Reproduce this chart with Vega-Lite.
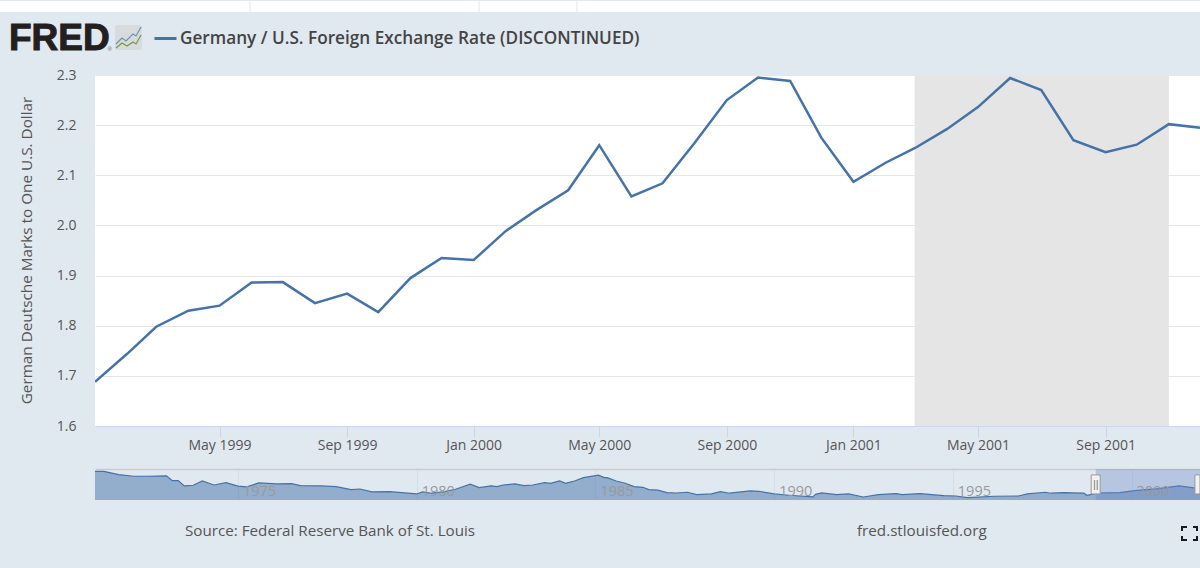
{
"$schema":"https://vega.github.io/schema/vega-lite/v6.json",
"background":"#e1e9f0",
"padding":0,
"bounds":"flush",
"spacing":0,
"config":{"view":{"stroke":null},"font":"Open Sans"},
"datasets":{
"monthly":[
{"date":"1999-01-01","rate":1.688},{"date":"1999-02-01","rate":1.744},{"date":"1999-03-01","rate":1.798},{"date":"1999-04-01","rate":1.83},{"date":"1999-05-01","rate":1.84},{"date":"1999-06-01","rate":1.886},{"date":"1999-07-01","rate":1.887},{"date":"1999-08-01","rate":1.845},{"date":"1999-09-01","rate":1.864},{"date":"1999-10-01","rate":1.827},{"date":"1999-11-01","rate":1.895},{"date":"1999-12-01","rate":1.935},
{"date":"2000-01-01","rate":1.931},{"date":"2000-02-01","rate":1.989},{"date":"2000-03-01","rate":2.03},{"date":"2000-04-01","rate":2.07},{"date":"2000-05-01","rate":2.16},{"date":"2000-06-01","rate":2.058},{"date":"2000-07-01","rate":2.084},{"date":"2000-08-01","rate":2.165},{"date":"2000-09-01","rate":2.25},{"date":"2000-10-01","rate":2.295},{"date":"2000-11-01","rate":2.288},{"date":"2000-12-01","rate":2.175},
{"date":"2001-01-01","rate":2.087},{"date":"2001-02-01","rate":2.125},{"date":"2001-03-01","rate":2.154},{"date":"2001-04-01","rate":2.192},{"date":"2001-05-01","rate":2.236},{"date":"2001-06-01","rate":2.294},{"date":"2001-07-01","rate":2.27},{"date":"2001-08-01","rate":2.17},{"date":"2001-09-01","rate":2.146},{"date":"2001-10-01","rate":2.161},{"date":"2001-11-01","rate":2.202},{"date":"2001-12-01","rate":2.195}
],
"history":[
{"date":"1971-01-01","rate":3.6},{"date":"1971-04-01","rate":3.6},{"date":"1971-09-01","rate":3.33},{"date":"1972-02-01","rate":3.19},{"date":"1972-07-01","rate":3.19},{"date":"1973-01-01","rate":3.22},{"date":"1973-03-01","rate":2.83},{"date":"1973-05-01","rate":2.83},{"date":"1973-07-01","rate":2.39},{"date":"1973-10-01","rate":2.45},{"date":"1974-01-01","rate":2.8},{"date":"1974-05-01","rate":2.47},{"date":"1974-09-01","rate":2.66},{"date":"1975-01-01","rate":2.37},{"date":"1975-04-01","rate":2.31},{"date":"1975-08-01","rate":2.64},{"date":"1976-02-01","rate":2.56},{"date":"1976-07-01","rate":2.58},{"date":"1976-10-01","rate":2.42},{"date":"1977-05-01","rate":2.39},{"date":"1977-10-01","rate":2.33},{"date":"1978-03-01","rate":2.09},{"date":"1978-06-01","rate":2.14},{"date":"1978-10-01","rate":1.9},{"date":"1979-04-01","rate":1.92},{"date":"1980-01-01","rate":1.73},{"date":"1980-03-01","rate":1.9},{"date":"1980-06-01","rate":1.79},{"date":"1980-10-01","rate":1.9},{"date":"1981-02-01","rate":2.12},{"date":"1981-07-01","rate":2.53},{"date":"1981-10-01","rate":2.25},{"date":"1982-02-01","rate":2.39},{"date":"1982-04-01","rate":2.33},{"date":"1982-06-01","rate":2.47},{"date":"1982-10-01","rate":2.56},{"date":"1983-01-01","rate":2.42},{"date":"1983-04-01","rate":2.47},{"date":"1983-08-01","rate":2.66},{"date":"1983-10-01","rate":2.61},{"date":"1984-01-01","rate":2.8},{"date":"1984-03-01","rate":2.61},{"date":"1984-06-01","rate":2.8},{"date":"1984-09-01","rate":3.08},{"date":"1985-02-01","rate":3.28},{"date":"1985-04-01","rate":3.08},{"date":"1985-05-01","rate":3.08},{"date":"1985-08-01","rate":2.8},{"date":"1985-11-01","rate":2.61},{"date":"1986-02-01","rate":2.33},{"date":"1986-05-01","rate":2.28},{"date":"1986-07-01","rate":2.09},{"date":"1986-10-01","rate":2.04},{"date":"1987-01-01","rate":1.84},{"date":"1987-04-01","rate":1.81},{"date":"1987-08-01","rate":1.87},{"date":"1987-11-01","rate":1.67},{"date":"1988-04-01","rate":1.73},{"date":"1988-07-01","rate":1.92},{"date":"1988-10-01","rate":1.79},{"date":"1989-05-01","rate":1.98},{"date":"1989-08-01","rate":1.95},{"date":"1990-01-01","rate":1.73},{"date":"1990-06-01","rate":1.62},{"date":"1991-02-01","rate":1.48},{"date":"1991-03-01","rate":1.7},{"date":"1991-05-01","rate":1.81},{"date":"1991-10-01","rate":1.67},{"date":"1992-02-01","rate":1.73},{"date":"1992-07-01","rate":1.48},{"date":"1992-12-01","rate":1.67},{"date":"1993-06-01","rate":1.75},{"date":"1993-08-01","rate":1.67},{"date":"1994-02-01","rate":1.75},{"date":"1994-10-01","rate":1.59},{"date":"1995-02-01","rate":1.56},{"date":"1995-06-01","rate":1.42},{"date":"1996-03-01","rate":1.54},{"date":"1996-11-01","rate":1.56},{"date":"1997-02-01","rate":1.73},{"date":"1997-08-01","rate":1.87},{"date":"1997-10-01","rate":1.79},{"date":"1998-02-01","rate":1.84},{"date":"1998-09-01","rate":1.79},{"date":"1998-10-01","rate":1.62},{"date":"1999-02-01","rate":1.81},{"date":"1999-09-01","rate":1.84},{"date":"2000-02-01","rate":2.0},{"date":"2000-10-01","rate":2.17},{"date":"2001-05-01","rate":2.39},{"date":"2001-10-01","rate":2.23},{"date":"2001-12-01","rate":2.2}
]
},
"vconcat":[
{
"width":1105,"height":74,
"layer":[
{"data":{"values":[{"a":-95,"b":1105,"t":0,"u":11}]},
 "mark":{"type":"rect","fill":"#ffffff"},
 "encoding":{"x":{"field":"a","type":"quantitative","scale":{"domain":[0,1105],"nice":false,"zero":false},"axis":null},"x2":{"field":"b"},"y":{"field":"t","type":"quantitative","scale":{"domain":[74,0],"nice":false,"zero":false},"axis":null},"y2":{"field":"u"}}},
{"data":{"values":[{"a":155,"t":0,"u":11},{"a":384,"t":0,"u":11},{"a":482,"t":0,"u":11}]},
 "mark":{"type":"rule","stroke":"#dfe6ef","strokeWidth":1},
 "encoding":{"x":{"field":"a","type":"quantitative","axis":null},"y":{"field":"t","type":"quantitative","axis":null},"y2":{"field":"u"}}},
{"data":{"values":[{"a":20,"b":47,"t":24,"u":49}]},
 "mark":{"type":"rect","fill":"#d8dbdd","cornerRadius":2},
 "encoding":{"x":{"field":"a","type":"quantitative","axis":null},"x2":{"field":"b"},"y":{"field":"t","type":"quantitative","axis":null},"y2":{"field":"u"}}},
{"data":{"values":[
 {"s":"blue","a":21,"t":43},{"s":"blue","a":27,"t":37},{"s":"blue","a":31,"t":40},{"s":"blue","a":38,"t":33},{"s":"blue","a":41,"t":35},{"s":"blue","a":46,"t":26},
 {"s":"green","a":21,"t":47},{"s":"green","a":27,"t":42},{"s":"green","a":32,"t":45},{"s":"green","a":38,"t":41},{"s":"green","a":41,"t":43},{"s":"green","a":46,"t":34}]},
 "mark":{"type":"line","strokeWidth":1.2},
 "encoding":{"x":{"field":"a","type":"quantitative","axis":null},"y":{"field":"t","type":"quantitative","axis":null},
  "color":{"field":"s","type":"nominal","legend":null,"scale":{"domain":["blue","green"],"range":["#6f92ad","#6f9a3f"]}}}},
{"data":{"values":[{"a":-86,"t":38,"label":"FRED"}]},
 "mark":{"type":"text","font":"Liberation Sans","fontWeight":"bold","fontSize":37,"align":"left","baseline":"middle","fill":"#231f20","stroke":"#231f20","strokeWidth":1},
 "encoding":{"x":{"field":"a","type":"quantitative","axis":null},"y":{"field":"t","type":"quantitative","axis":null},"text":{"field":"label"}}},
{"data":{"values":[{"a":12.5,"t":47.5,"label":"®"}]},
 "mark":{"type":"text","font":"Liberation Sans","fontSize":6,"align":"left","baseline":"middle","fill":"#666666"},
 "encoding":{"x":{"field":"a","type":"quantitative","axis":null},"y":{"field":"t","type":"quantitative","axis":null},"text":{"field":"label"}}}
],
"resolve":{"scale":{"color":"independent"}}
},
{
"width":1105,"height":351,
"view":{"fill":"#ffffff","stroke":null},
"layer":[
{"data":{"values":[{"start":"2001-03-01","end":"2001-11-01"}]},
 "mark":{"type":"rect","fill":"#e5e5e5"},
 "encoding":{"x":{"field":"start","type":"temporal","scale":{"type":"utc","domain":["1999-01-01","2001-12-01"]},
   "axis":{"title":null,"values":["1999-05-01","1999-09-01","2000-01-01","2000-05-01","2000-09-01","2001-01-01","2001-05-01","2001-09-01"],"format":"%b %Y","grid":false,"domainColor":"#ccd6eb","domainWidth":1,"tickColor":"#ccd6eb","tickSize":11,"labelFontSize":14,"labelColor":"#555555","labelPadding":1,"labelFont":"Open Sans"}},
  "x2":{"field":"end"}}},
{"data":{"name":"monthly"},
 "mark":{"type":"line","strokeWidth":2.5,"clip":true},
 "transform":[{"calculate":"'Germany / U.S. Foreign Exchange Rate (DISCONTINUED)'","as":"series"}],
 "encoding":{"x":{"field":"date","type":"temporal"},
  "y":{"field":"rate","type":"quantitative","scale":{"domain":[1.6,2.3],"nice":false,"zero":false},
   "axis":{"title":"German Deutsche Marks to One U.S. Dollar","titleFontSize":15.3,"titleFontWeight":"normal","titleColor":"#555555","titleFont":"Open Sans","titleX":-61,"titleY":175,"values":[1.6,1.7,1.8,1.9,2.0,2.1,2.2,2.3],"format":".1f","grid":true,"gridColor":"#e6e6e6","domain":false,"ticks":false,"labelFontSize":14,"labelColor":"#555555","labelPadding":19,"labelFont":"Open Sans"}},
  "color":{"field":"series","type":"nominal","scale":{"range":["#4572a7"]},
   "legend":{"orient":"none","legendX":58,"legendY":25,"title":null,"symbolType":"stroke","symbolSize":484,"symbolStrokeWidth":3,"labelOffset":2,"labelFontSize":17.2,"labelFont":"Open Sans","labelFontWeight":600,"labelColor":"#444444","labelLimit":600}}}}
]
},
{"width":1105,"height":43,"data":{"values":[{"label":""}]},"mark":{"type":"text"},"encoding":{"text":{"field":"label"}}},
{
"width":1105,"height":31,
"layer":[
{"data":{"name":"history"},
 "mark":{"type":"area","fill":"#4572a7","fillOpacity":0.5,"line":{"stroke":"#4572a7","strokeWidth":1.2},"clip":true},
 "encoding":{"x":{"field":"date","type":"temporal","scale":{"type":"utc","domain":["1971-01-01","2001-12-01"]},
   "axis":{"title":null,"orient":"top","labels":false,"ticks":false,"domainColor":"#cccccc","domainWidth":1.5,"grid":true,"gridColor":"#d6dde5","values":["1975-01-01","1980-01-01","1985-01-01","1990-01-01","1995-01-01","2000-01-01"]}},
  "y":{"field":"rate","type":"quantitative","scale":{"domain":[1.23,3.79],"nice":false,"zero":false},"axis":null}}},
{"data":{"values":[{"start":"1999-01-01","end":"2001-12-01"}]},
 "mark":{"type":"rect","fill":"#6685c2","fillOpacity":0.35},
 "encoding":{"x":{"field":"start","type":"temporal"},"x2":{"field":"end"}}},
{"data":{"values":[{"date":"1975-01-01","label":"1975"},{"date":"1980-01-01","label":"1980"},{"date":"1985-01-01","label":"1985"},{"date":"1990-01-01","label":"1990"},{"date":"1995-01-01","label":"1995"},{"date":"2000-01-01","label":"2000"}]},
 "mark":{"type":"text","align":"left","baseline":"middle","dx":5,"dy":7,"fontSize":14.5,"fill":"#999999"},
 "encoding":{"x":{"field":"date","type":"temporal"},"text":{"field":"label"}}},
{"data":{"values":[{"start":"1998-11-15","end":"1999-02-15","top":3.3,"bottom":1.73},{"start":"2001-10-10","end":"2001-12-01","top":3.3,"bottom":1.73}]},
 "mark":{"type":"rect","fill":"#f2f2f2","stroke":"#999999","strokeWidth":1},
 "encoding":{"x":{"field":"start","type":"temporal"},"x2":{"field":"end"},"y":{"field":"top","type":"quantitative"},"y2":{"field":"bottom"}}},
{"data":{"values":[{"date":"1999-01-01","rate":2.5,"label":"||"}]},
 "mark":{"type":"text","font":"Liberation Sans","fontSize":11,"align":"center","baseline":"middle","fill":"#777777"},
 "encoding":{"x":{"field":"date","type":"temporal"},"y":{"field":"rate","type":"quantitative"},"text":{"field":"label"}}}
]
},
{
"width":1105,"height":68,
"layer":[
{"data":{"values":[{"a":90,"t":31,"label":"Source: Federal Reserve Bank of St. Louis"},{"a":762,"t":31,"label":"fred.stlouisfed.org"}]},
 "mark":{"type":"text","align":"left","baseline":"middle","fontSize":15.2,"fill":"#555555"},
 "encoding":{"x":{"field":"a","type":"quantitative","scale":{"domain":[0,1105],"nice":false,"zero":false},"axis":null},
  "y":{"field":"t","type":"quantitative","scale":{"domain":[68,0],"nice":false,"zero":false},"axis":null},"text":{"field":"label"}}},
{"data":{"values":[
 {"g":"a","a":1087,"t":31},{"g":"a","a":1087,"t":27},{"g":"a","a":1092,"t":27},
 {"g":"b","a":1098,"t":27},{"g":"b","a":1102,"t":27},{"g":"b","a":1102,"t":31},
 {"g":"c","a":1087,"t":36},{"g":"c","a":1087,"t":40},{"g":"c","a":1092,"t":40},
 {"g":"d","a":1098,"t":40},{"g":"d","a":1102,"t":40},{"g":"d","a":1102,"t":36}]},
 "mark":{"type":"line","stroke":"#1a1a1a","strokeWidth":2},
 "encoding":{"x":{"field":"a","type":"quantitative","axis":null},"y":{"field":"t","type":"quantitative","axis":null},"detail":{"field":"g"},"order":{"field":"a"}}}
]
}
]
}
